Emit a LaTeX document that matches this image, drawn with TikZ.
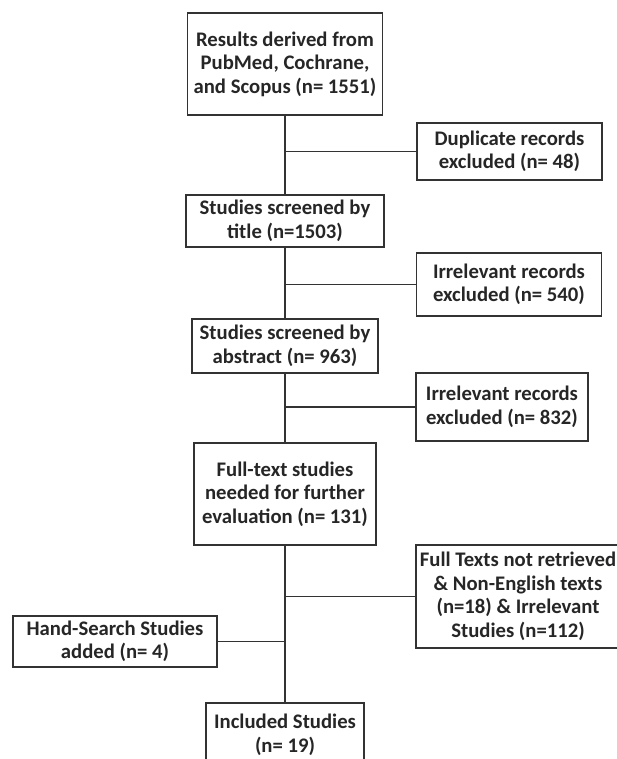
\documentclass[tikz,border=0pt]{standalone}
\usepackage{fontspec}
\setmainfont{Carlito}
\begin{document}
\begin{tikzpicture}[x=1pt,y=-1pt,
    box/.style={draw=black!80,line width=1.6pt,fill=white,align=center,inner sep=0pt,
      text=black!85,font=\fontsize{20.7}{23.5}\selectfont\bfseries},
    link/.style={draw=black!80,line width=1.8pt}]
  \useasboundingbox (0,0) rectangle (617,759);
  \clip (0,0) rectangle (617,759);
  \path
    (285,64) node[box,minimum width=195,minimum height=102] (res)
      {Results derived from\\PubMed, Cochrane,\\and Scopus (n= 1551)}
    (509.5,151.5) node[box,minimum width=185,minimum height=57] (dup)
      {Duplicate records\\excluded (n= 48)}
    (285,221) node[box,minimum width=198,minimum height=52] (title)
      {Studies screened by\\title (n=1503)}
    (509,284.5) node[box,minimum width=185,minimum height=63] (irr1)
      {Irrelevant records\\excluded (n= 540)}
    (285,346) node[box,minimum width=186,minimum height=54] (abs)
      {Studies screened by\\abstract (n= 963)}
    (502,407) node[box,minimum width=172,minimum height=68] (irr2)
      {Irrelevant records\\excluded (n= 832)}
    (285,494) node[box,minimum width=182,minimum height=102] (full)
      {Full-text studies\\needed for further\\evaluation (n= 131)}
    (518,596.5) node[box,minimum width=204,minimum height=103] (ntr)
      {Full Texts not retrieved\\\& Non-English texts\\(n=18) \& Irrelevant\\Studies (n=112)}
    (115,641.5) node[box,minimum width=204,minimum height=51] (hand)
      {Hand-Search Studies\\added (n= 4)}
    (285,735) node[box,minimum width=158,minimum height=64] (inc)
      {Included Studies\\(n= 19)};
  \draw[link] (res) -- (title);
  \draw[link] (title) -- (abs);
  \draw[link] (abs) -- (full);
  \draw[link] (full) -- (inc);
  \draw[link] (dup.west) -- (dup.west -| res.south);
  \draw[link] (irr1.west) -- (irr1.west -| title.south);
  \draw[link] (irr2.west) -- (irr2.west -| abs.south);
  \draw[link] (ntr.west) -- (ntr.west -| full.south);
  \draw[link] (hand.east) -- (hand.east -| full.south);
\end{tikzpicture}
\end{document}
